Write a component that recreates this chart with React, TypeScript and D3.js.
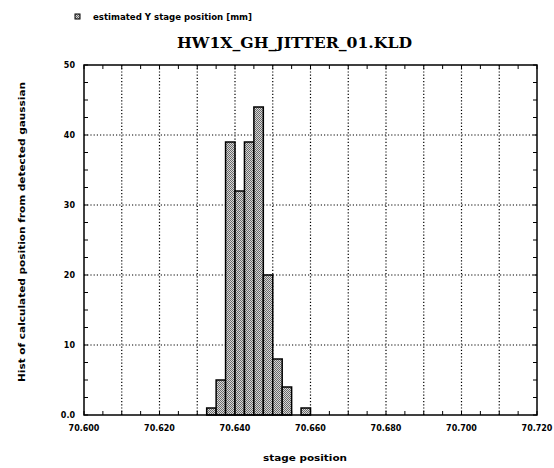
import React from 'react';
import * as d3 from 'd3';

// histogram bins (left edge of each bin, width 0.0025)
const binStarts = [70.6325, 70.635, 70.6375, 70.64, 70.6425, 70.645, 70.6475, 70.65, 70.6525, 70.6575];
const binCounts = [1, 5, 39, 32, 39, 44, 20, 8, 4, 1];
const binWidth = 0.0025;

const xTickLabels = ['70.600', '70.620', '70.640', '70.660', '70.680', '70.700', '70.720'];
const yTickLabels = ['0.0', '10', '20', '30', '40', '50'];

const title = 'HW1X_GH_JITTER_01.KLD';
const legendText = 'estimated Y stage position [mm]';
const xLabel = 'stage position';
const yLabel = 'Hist of calculated position from detected gaussian';

const W = 554, H = 468;
const left = 84, right = 537, top = 65, bottom = 415;

const App = () => {
  const x = d3.scaleLinear().domain([70.6, 70.72]).range([left, right]);
  const y = d3.scaleLinear().domain([0, 50]).range([bottom, top]);

  const xGrid = d3.range(1, 12).map(i => 70.6 + i * 0.01);
  const xMinor = d3.range(0, 25).map(i => 70.6 + i * 0.005);
  const yGrid = [10, 20, 30, 40];
  const yMinor = d3.range(0, 21).map(i => i * 2.5);
  const font = "'DejaVu Sans', sans-serif";

  return (
    <svg width={W} height={H} style={{position: 'absolute', left: 0, top: 0, background: '#fff'}}>
      <defs>
        <pattern id="dither" width="2" height="2" patternUnits="userSpaceOnUse">
          <rect width="2" height="2" fill="#d8d8d8" />
          <rect width="1" height="1" fill="#6a6a6a" />
          <rect x="1" y="1" width="1" height="1" fill="#6a6a6a" />
        </pattern>
      </defs>

      {/* legend */}
      <rect x={75} y={14} width={5} height={5} fill="url(#dither)" stroke="#000" strokeWidth={1} />
      <text x={93} y={20} fontFamily={font} fontSize={8} fontWeight="bold" textLength={159}
        lengthAdjust="spacingAndGlyphs">{legendText}</text>

      {/* title */}
      <text x={294.5} y={48} textAnchor="middle" fontFamily="'DejaVu Serif', serif" fontWeight="bold"
        fontSize={14} textLength={235} lengthAdjust="spacingAndGlyphs">{title}</text>

      {/* grid */}
      {xGrid.map((v, i) => (
        <line key={'xg' + i} x1={x(v)} x2={x(v)} y1={top} y2={bottom} stroke="#000" strokeWidth={1.2}
          strokeDasharray="1.2,2" />
      ))}
      {yGrid.map((v, i) => (
        <line key={'yg' + i} x1={left} x2={right} y1={y(v)} y2={y(v)} stroke="#000" strokeWidth={1.2}
          strokeDasharray="1.2,2" />
      ))}

      {/* minor ticks */}
      {xMinor.map((v, i) => (
        <g key={'xm' + i}>
          <line x1={x(v)} x2={x(v)} y1={bottom} y2={bottom - 4} stroke="#000" />
          <line x1={x(v)} x2={x(v)} y1={top} y2={top + 4} stroke="#000" />
        </g>
      ))}
      {yMinor.map((v, i) => (
        <g key={'ym' + i}>
          <line x1={left} x2={left + 4} y1={y(v)} y2={y(v)} stroke="#000" />
          <line x1={right} x2={right - 4} y1={y(v)} y2={y(v)} stroke="#000" />
        </g>
      ))}

      {/* bars */}
      {binStarts.map((s, i) => (
        <rect key={'b' + i} x={x(s)} y={y(binCounts[i])} width={x(s + binWidth) - x(s)}
          height={y(0) - y(binCounts[i])} fill="url(#dither)" stroke="#000" strokeWidth={1.5} />
      ))}

      {/* frame */}
      <rect x={left} y={top} width={right - left} height={bottom - top} fill="none" stroke="#000" strokeWidth={1.5} />

      {/* tick labels */}
      {xTickLabels.map((t, i) => (
        <text key={'xt' + i} x={x(+t)} y={431} textAnchor="middle" fontFamily={font} fontSize={8}
          fontWeight="bold">{t}</text>
      ))}
      {yTickLabels.map((t, i) => (
        <text key={'yt' + i} x={75} y={y(+t) + 3} textAnchor="end" fontFamily={font} fontSize={8}
          fontWeight="bold">{t}</text>
      ))}

      {/* axis labels */}
      <text x={305} y={461} textAnchor="middle" fontFamily={font} fontSize={9} fontWeight="bold"
        textLength={84} lengthAdjust="spacingAndGlyphs">{xLabel}</text>
      <text transform={`translate(25,232) rotate(-90)`} textAnchor="middle" fontFamily={font} fontSize={9}
        fontWeight="bold" textLength={300} lengthAdjust="spacingAndGlyphs">{yLabel}</text>
    </svg>
  );
};

export default App;
